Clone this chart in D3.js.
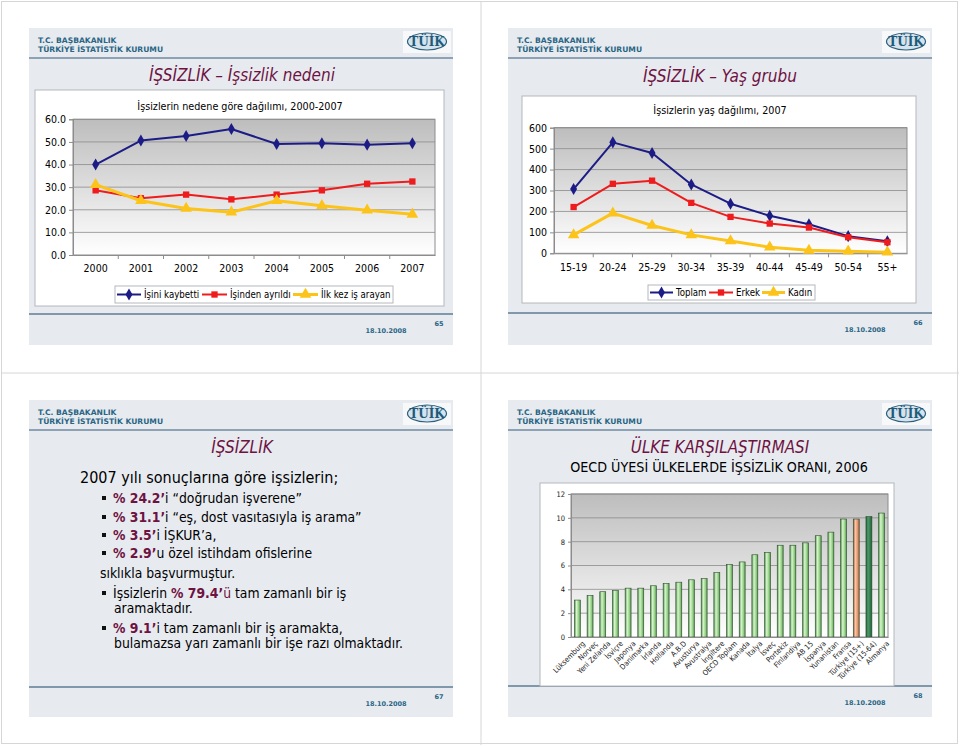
<!DOCTYPE html>
<html>
<head>
<meta charset="utf-8">
<script src="https://cdn.jsdelivr.net/npm/d3@7"></script>
<style>
  body { margin: 0; background: #fff; }
  svg { display: block; }
</style>
</head>
<body>
<svg id="page" width="960" height="746"></svg>
<script>
// slide 65 - reasons
var years = ["2000", "2001", "2002", "2003", "2004", "2005", "2006", "2007"];
var isiniKaybetti = [40.0, 50.6, 52.6, 55.7, 49.1, 49.4, 48.8, 49.4];
var isindenAyrildi = [28.6, 25.1, 26.7, 24.6, 26.7, 28.6, 31.5, 32.5];
var ilkKezArayan = [31.1, 24.0, 20.6, 18.9, 24.0, 21.8, 19.8, 18.0];
var reasonTicks = [0, 10, 20, 30, 40, 50, 60];

// slide 66 - age groups
var ageGroups = ["15-19", "20-24", "25-29", "30-34", "35-39", "40-44", "45-49", "50-54", "55+"];
var toplam = [307, 530, 479, 329, 237, 179, 139, 82, 58];
var erkek = [221, 332, 347, 241, 174, 142, 123, 77, 53];
var kadin = [88, 192, 133, 88, 59, 29, 14, 10, 5];
var ageTicks = [0, 100, 200, 300, 400, 500, 600];

// slide 68 - OECD comparison
var countries = ["Lüksemburg", "Norveç", "Yeni Zelanda", "İsviçre", "Japonya", "Danimarka", "İrlanda",
  "Hollanda", "A.B.D", "Avusturya", "Avustralya", "İngiltere", "OECD Toplam", "Kanada", "İtalya",
  "İsveç", "Portekiz", "Finlandiya", "AB 15", "İspanya", "Yunanistan", "Fransa", "Türkiye (15+)",
  "Türkiye (15-64)", "Almanya"];
var rates = [3.1, 3.5, 3.8, 3.9, 4.1, 4.1, 4.3, 4.5, 4.6, 4.8, 4.9, 5.4, 6.1, 6.3, 6.9, 7.1, 7.7,
  7.7, 7.9, 8.5, 8.8, 9.9, 9.9, 10.1, 10.4];
var rateTicks = [0, 2, 4, 6, 8, 10, 12];

// slide 67 - text, each line is a list of [text, style] (0 plain, 1 bold maroon, 2 maroon)
var textLines = [
  { bullet: false, runs: [["2007 yılı sonuçlarına göre işsizlerin;", 0]] },
  { bullet: true, runs: [["% 24.2’", 1], ["i “doğrudan işverene”", 0]] },
  { bullet: true, runs: [["% 31.1’", 1], ["i “eş, dost vasıtasıyla iş arama”", 0]] },
  { bullet: true, runs: [["% 3.5’", 1], ["i İŞKUR’a,", 0]] },
  { bullet: true, runs: [["% 2.9’", 1], ["u özel istihdam ofislerine", 0]] },
  { bullet: false, runs: [["sıklıkla başvurmuştur.", 0]] },
  { bullet: true, runs: [["İşsizlerin ", 0], ["% 79.4’", 1], ["ü", 2], [" tam zamanlı bir iş", 0]] },
  { bullet: false, runs: [["aramaktadır.", 0]] },
  { bullet: true, runs: [["% 9.1’", 1], ["i tam zamanlı bir iş aramakta,", 0]] },
  { bullet: false, runs: [["bulamazsa yarı zamanlı bir işe razı olmaktadır.", 0]] }
];

var FONT = "Tahoma, 'DejaVu Sans Condensed', 'Noto Sans', sans-serif";
var MAROON = "#6e1242";
var TEAL = "#2a6584";

var svg = d3.select("#page");
var defs = svg.append("defs");

var plotGrad = defs.append("linearGradient").attr("id", "plotBg")
  .attr("x1", 0).attr("y1", 0).attr("x2", 0).attr("y2", 1);
plotGrad.append("stop").attr("offset", 0).attr("stop-color", "#bdbdbd");
plotGrad.append("stop").attr("offset", 1).attr("stop-color", "#ffffff");

function barGrad(id, edge, light, mid) {
  var g = defs.append("linearGradient").attr("id", id)
    .attr("x1", 0).attr("y1", 0).attr("x2", 1).attr("y2", 0);
  g.append("stop").attr("offset", 0).attr("stop-color", edge);
  g.append("stop").attr("offset", 0.35).attr("stop-color", light);
  g.append("stop").attr("offset", 0.75).attr("stop-color", mid);
  g.append("stop").attr("offset", 1).attr("stop-color", edge);
}
barGrad("barGreen", "#4c8c4c", "#d8f5cc", "#8fcd80");
barGrad("barOrange", "#a0522d", "#f7c9aa", "#e2906a");
barGrad("barDark", "#1f5a36", "#4f9a6a", "#2e7a4a");

// page frame and quadrant separators
svg.append("rect").attr("x", 1.5).attr("y", 1.5).attr("width", 956).attr("height", 742)
  .attr("fill", "none").attr("stroke", "#d6d6d6");
svg.append("line").attr("x1", 481).attr("x2", 481).attr("y1", 1).attr("y2", 745).attr("stroke", "#d6d6d6");
svg.append("line").attr("x1", 1).attr("x2", 959).attr("y1", 373).attr("y2", 373).attr("stroke", "#d6d6d6");

// common slide chrome
function slide(x, y, w, h, lineY, footY, pageNo) {
  var g = svg.append("g").attr("transform", "translate(" + x + "," + y + ")");
  g.append("rect").attr("width", w).attr("height", h).attr("fill", "#e7ebf0");
  g.append("text").attr("x", 9).attr("y", 15).text("T.C. BAŞBAKANLIK")
    .attr("font-family", "'DejaVu Sans', Verdana, sans-serif").attr("font-weight", "bold")
    .attr("font-size", 7.6).attr("fill", TEAL);
  g.append("text").attr("x", 9).attr("y", 24).text("TÜRKİYE İSTATİSTİK KURUMU")
    .attr("font-family", "'DejaVu Sans', Verdana, sans-serif").attr("font-weight", "bold")
    .attr("font-size", 7.6).attr("fill", TEAL);
  g.append("line").attr("x1", 0).attr("x2", w).attr("y1", lineY).attr("y2", lineY)
    .attr("stroke", "#6f8aa0").attr("stroke-width", 1.5);
  // logo
  g.append("rect").attr("x", w - 50).attr("y", 3).attr("width", 48).attr("height", 22).attr("fill", "#f6f8fa");
  g.append("ellipse").attr("cx", w - 26).attr("cy", 13.5).attr("rx", 19.5).attr("ry", 8.5)
    .attr("fill", "#d4e3ee").attr("stroke", "#2d5f7c").attr("stroke-width", 1.2);
  g.append("text").attr("x", w - 26).attr("y", 18).attr("text-anchor", "middle").text("TÜİK")
    .attr("font-family", "'DejaVu Serif', 'Liberation Serif', serif").attr("font-weight", "bold")
    .attr("font-size", 12).attr("fill", "#1f5a78");
  // footer
  g.append("line").attr("x1", 0).attr("x2", w).attr("y1", footY).attr("y2", footY)
    .attr("stroke", "#7f98ab").attr("stroke-width", 2);
  g.append("text").attr("x", w - 67).attr("y", footY + 19).attr("text-anchor", "middle").text("18.10.2008")
    .attr("font-family", "'DejaVu Sans', Verdana, sans-serif").attr("font-weight", "bold")
    .attr("font-size", 6.5).attr("fill", TEAL);
  g.append("text").attr("x", w - 14).attr("y", footY + 12).attr("text-anchor", "middle").text(pageNo)
    .attr("font-family", "'DejaVu Sans', Verdana, sans-serif").attr("font-weight", "bold")
    .attr("font-size", 6.5).attr("fill", TEAL);
  return g;
}

function title(txt, cx, cy, size) {
  svg.append("text").attr("x", cx).attr("y", cy).attr("text-anchor", "middle")
    .attr("dominant-baseline", "central").text(txt)
    .attr("font-family", FONT).attr("font-style", "italic").attr("font-size", size).attr("fill", MAROON);
}

slide(29, 28, 424, 317, 30, 286, "65");
slide(508, 28, 424, 317, 30, 285, "66");
slide(29, 400, 424, 317, 30, 287, "67");
slide(508, 400, 424, 317, 30, 286, "68");

title("İŞSİZLİK – İşsizlik nedeni", 242, 75, 17);
title("İŞSİZLİK – Yaş grubu", 720, 76, 17);
title("İŞSİZLİK", 242, 447, 17);
title("ÜLKE KARŞILAŞTIRMASI", 720, 447, 16.8);

// ---------- line charts ----------
var markers = {
  diamond: d3.symbol().type(d3.symbolDiamond).size(42),
  square: d3.symbol().type(d3.symbolSquare).size(40),
  triangle: d3.symbol().type(d3.symbolTriangle).size(58)
};

function lineChart(opt) {
  var box = opt.box, plot = opt.plot;
  svg.append("rect").attr("x", box[0]).attr("y", box[1]).attr("width", box[2] - box[0]).attr("height", box[3] - box[1])
    .attr("fill", "#fff").attr("stroke", "#b4b8bc");
  svg.append("text").attr("x", opt.titleX).attr("y", opt.titleY).attr("text-anchor", "middle")
    .attr("dominant-baseline", "central").text(opt.title)
    .attr("font-family", FONT).attr("font-size", 10.7).attr("fill", "#000");

  var x = d3.scaleBand().domain(opt.cats).range([plot[0], plot[2]]);
  var y = d3.scaleLinear().domain([0, d3.max(opt.ticks)]).range([plot[3], plot[1]]);

  svg.append("rect").attr("x", plot[0]).attr("y", plot[1]).attr("width", plot[2] - plot[0]).attr("height", plot[3] - plot[1])
    .attr("fill", "url(#plotBg)");
  svg.append("g").selectAll("line").data(opt.ticks.slice(1)).join("line")
    .attr("x1", plot[0]).attr("x2", plot[2]).attr("y1", d => y(d)).attr("y2", d => y(d))
    .attr("stroke", "#8c8c8c").attr("stroke-width", 0.8);
  svg.append("rect").attr("x", plot[0]).attr("y", plot[1]).attr("width", plot[2] - plot[0]).attr("height", plot[3] - plot[1])
    .attr("fill", "none").attr("stroke", "#8c8c8c");

  var ya = svg.append("g").attr("transform", "translate(" + plot[0] + ",0)")
    .call(d3.axisLeft(y).tickValues(opt.ticks).tickFormat(opt.fmt).tickSize(4).tickPadding(3));
  var xa = svg.append("g").attr("transform", "translate(0," + plot[3] + ")")
    .call(d3.axisBottom(x).tickSize(0).tickPadding(10));
  [ya, xa].forEach(function (a) {
    a.select(".domain").attr("stroke", "#8c8c8c");
    a.selectAll(".tick line").attr("stroke", "#8c8c8c");
    a.selectAll("text").attr("font-family", FONT).attr("font-size", 10.5).attr("fill", "#000");
  });
  // category boundary ticks
  svg.append("g").selectAll("line").data(opt.cats.slice(1)).join("line")
    .attr("x1", d => x(d)).attr("x2", d => x(d)).attr("y1", plot[3]).attr("y2", plot[3] + 4)
    .attr("stroke", "#8c8c8c");

  opt.series.forEach(function (s) {
    var line = d3.line().x((d, i) => x(opt.cats[i]) + x.bandwidth() / 2).y(d => y(d));
    svg.append("path").datum(s.values).attr("d", line)
      .attr("fill", "none").attr("stroke", s.color).attr("stroke-width", s.width).attr("stroke-linejoin", "round");
    svg.append("g").selectAll("path").data(s.values).join("path")
      .attr("transform", (d, i) => "translate(" + (x(opt.cats[i]) + x.bandwidth() / 2) + "," + y(d) + ")")
      .attr("d", markers[s.marker]).attr("fill", s.color);
  });

  // legend
  var lg = opt.legend;
  svg.append("rect").attr("x", lg.box[0]).attr("y", lg.box[1]).attr("width", lg.box[2] - lg.box[0])
    .attr("height", lg.box[3] - lg.box[1]).attr("fill", "#fff").attr("stroke", "#b4b8bc");
  var ly = (lg.box[1] + lg.box[3]) / 2;
  opt.series.forEach(function (s, i) {
    var x0 = lg.pos[i][0], x1 = lg.pos[i][1];
    svg.append("line").attr("x1", x0).attr("x2", x1).attr("y1", ly).attr("y2", ly)
      .attr("stroke", s.color).attr("stroke-width", s.width);
    svg.append("path").attr("transform", "translate(" + ((x0 + x1) / 2) + "," + ly + ")")
      .attr("d", markers[s.marker]).attr("fill", s.color);
    svg.append("text").attr("x", x1 + 3).attr("y", ly).attr("dominant-baseline", "central").text(s.name)
      .attr("font-family", FONT).attr("font-size", 9.6).attr("fill", "#000");
  });
}

lineChart({
  box: [35, 90, 444, 306], plot: [73, 119.3, 435, 255], titleX: 240, titleY: 106,
  title: "İşsizlerin nedene göre dağılımı, 2000-2007",
  cats: years, ticks: reasonTicks, fmt: d3.format(".1f"),
  series: [
    { name: "İşini kaybetti", values: isiniKaybetti, color: "#1c1c86", width: 2, marker: "diamond" },
    { name: "İşinden ayrıldı", values: isindenAyrildi, color: "#ee1c1c", width: 2, marker: "square" },
    { name: "İlk kez iş arayan", values: ilkKezArayan, color: "#fcc41a", width: 3, marker: "triangle" }
  ],
  legend: { box: [115, 286, 393, 303], pos: [[117, 141], [202, 227], [293, 318]] }
});

lineChart({
  box: [522, 96, 916, 303], plot: [554, 127.7, 907, 253.3], titleX: 720, titleY: 110,
  title: "İşsizlerin yaş dağılımı, 2007",
  cats: ageGroups, ticks: ageTicks, fmt: d3.format("d"),
  series: [
    { name: "Toplam", values: toplam, color: "#1c1c86", width: 2, marker: "diamond" },
    { name: "Erkek", values: erkek, color: "#ee1c1c", width: 2, marker: "square" },
    { name: "Kadın", values: kadin, color: "#fcc41a", width: 3, marker: "triangle" }
  ],
  legend: { box: [648, 285, 815, 300], pos: [[650, 673], [709, 733], [762, 785]] }
});

// ---------- text slide ----------
var tg = svg.append("g");
var lineY = [483, 503, 522, 540, 558, 578, 598, 613, 633, 648];
var lineX = [80, 113, 113, 113, 113, 100, 113, 114, 113, 114];
textLines.forEach(function (ln, i) {
  if (ln.bullet) {
    tg.append("rect").attr("x", 102).attr("y", lineY[i] - 7).attr("width", 4).attr("height", 4).attr("fill", "#111");
  }
  var t = tg.append("text").attr("x", lineX[i]).attr("y", lineY[i])
    .attr("font-family", FONT).attr("font-size", i === 0 ? 16 : 13.8);
  ln.runs.forEach(function (r) {
    t.append("tspan").text(r[0])
      .attr("font-weight", r[1] === 1 ? "bold" : "normal")
      .attr("fill", r[1] ? MAROON : "#000");
  });
});

// ---------- bar chart ----------
svg.append("text").attr("x", 719).attr("y", 467).attr("text-anchor", "middle").attr("dominant-baseline", "central")
  .text("OECD ÜYESİ ÜLKELERDE İŞSİZLİK ORANI, 2006")
  .attr("font-family", FONT).attr("font-size", 14.2).attr("fill", "#000");

var bplot = [571, 494, 888, 637];
svg.append("rect").attr("x", 540).attr("y", 483).attr("width", 354).attr("height", 203)
  .attr("fill", "#fff").attr("stroke", "#b4b8bc");
var bx = d3.scaleBand().domain(countries).range([bplot[0], bplot[2]]).paddingInner(0.53).paddingOuter(0.27);
var by = d3.scaleLinear().domain([0, 12]).range([bplot[3], bplot[1]]);
svg.append("rect").attr("x", bplot[0]).attr("y", bplot[1]).attr("width", bplot[2] - bplot[0]).attr("height", bplot[3] - bplot[1])
  .attr("fill", "url(#plotBg)");
svg.append("g").selectAll("line").data(rateTicks.slice(1)).join("line")
  .attr("x1", bplot[0]).attr("x2", bplot[2]).attr("y1", d => by(d)).attr("y2", d => by(d))
  .attr("stroke", "#8c8c8c").attr("stroke-width", 0.8);
svg.append("rect").attr("x", bplot[0]).attr("y", bplot[1]).attr("width", bplot[2] - bplot[0]).attr("height", bplot[3] - bplot[1])
  .attr("fill", "none").attr("stroke", "#8c8c8c");
svg.append("g").selectAll("rect").data(rates).join("rect")
  .attr("x", (d, i) => bx(countries[i])).attr("width", bx.bandwidth())
  .attr("y", d => by(d)).attr("height", d => by(0) - by(d))
  .attr("fill", (d, i) => countries[i] === "Türkiye (15+)" ? "url(#barOrange)" :
    countries[i] === "Türkiye (15-64)" ? "url(#barDark)" : "url(#barGreen)")
  .attr("stroke", "#2f4f2f").attr("stroke-width", 0.6);

var bya = svg.append("g").attr("transform", "translate(" + bplot[0] + ",0)")
  .call(d3.axisLeft(by).tickValues(rateTicks).tickSize(3).tickPadding(3));
var bxa = svg.append("g").attr("transform", "translate(0," + bplot[3] + ")")
  .call(d3.axisBottom(bx).tickSize(0).tickPadding(5));
[bya, bxa].forEach(function (a) {
  a.select(".domain").attr("stroke", "#8c8c8c");
  a.selectAll(".tick line").attr("stroke", "#8c8c8c");
  a.selectAll("text").attr("font-family", FONT).attr("font-size", 7.5).attr("fill", "#222");
});
bxa.selectAll("text").attr("text-anchor", "end").attr("dy", "0.3em")
  .attr("transform", "translate(3,2) rotate(-45)");
</script>
</body>
</html>
